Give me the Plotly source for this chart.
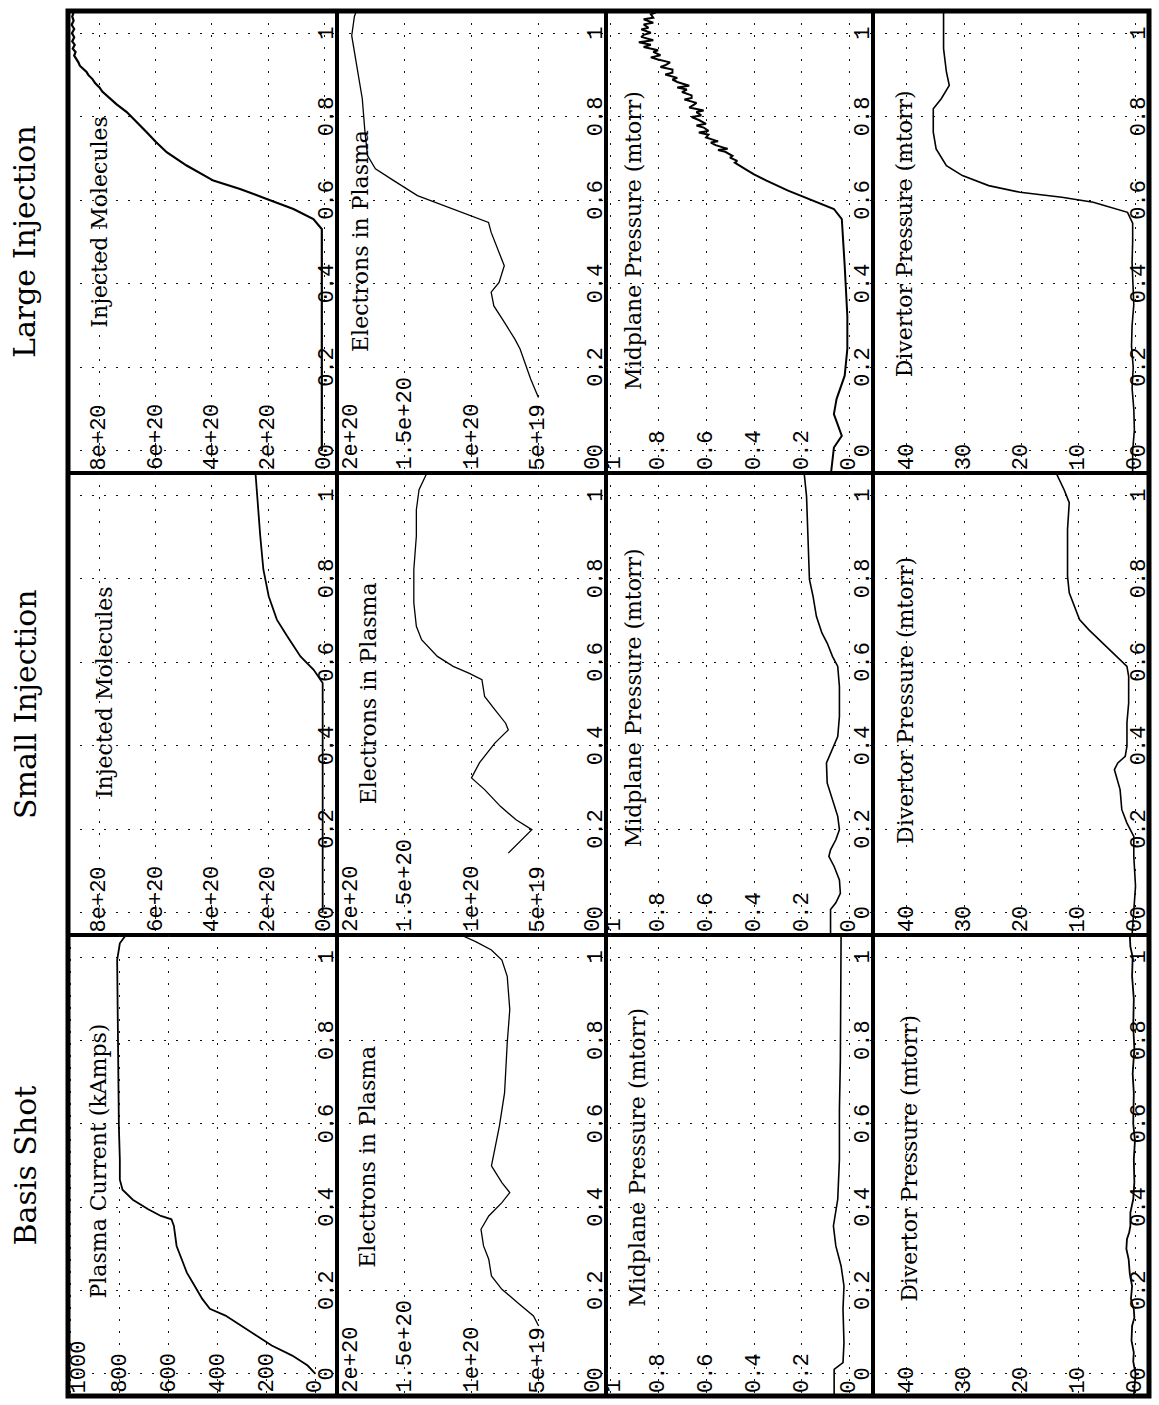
import plotly.graph_objects as go

W, H = 1159, 1405

# ---------------- data (t is normalised time, values in panel units) ----------------
T_TICKS = [0, 0.2, 0.4, 0.6, 0.8, 1]
T_LABELS = ["0", "0.2", "0.4", "0.6", "0.8", "1"]

CURRENT_TICKS = [0, 200, 400, 600, 800, 1000]
CURRENT_LABELS = ["0", "200", "400", "600", "800", "1000"]
MOLECULE_TICKS = [0, 2e20, 4e20, 6e20, 8e20]
MOLECULE_LABELS = ["0", "2e+20", "4e+20", "6e+20", "8e+20"]
ELECTRON_TICKS = [0, 5e19, 1e20, 1.5e20, 2e20]
ELECTRON_LABELS = ["0", "5e+19", "1e+20", "1.5e+20", "2e+20"]
MIDPLANE_TICKS = [0, 0.2, 0.4, 0.6, 0.8, 1]
MIDPLANE_LABELS = ["0", "0.2", "0.4", "0.6", "0.8", "1"]
DIVERTOR_TICKS = [0, 10, 20, 30, 40]
DIVERTOR_LABELS = ["0", "10", "20", "30", "40"]

# (t, kA)
BASIS_CURRENT = [(0, 0), (0.02, 32), (0.044, 95), (0.068, 179), (0.092, 242), (0.116, 305),
                 (0.14, 368), (0.156, 432), (0.18, 463), (0.212, 495), (0.243, 526), (0.275, 547),
                 (0.307, 568), (0.355, 579), (0.371, 589), (0.379, 632), (0.395, 684), (0.418, 747),
                 (0.442, 789), (0.466, 800), (0.514, 800), (0.594, 804), (0.754, 806), (0.913, 811),
                 (0.993, 811), (1.033, 800), (1.053, 775)]
# (t, electrons / 1e20)
BASIS_ELECTRONS = [(0.115, 0.498), (0.139, 0.537), (0.171, 0.655), (0.203, 0.773), (0.235, 0.851),
                   (0.275, 0.871), (0.307, 0.91), (0.347, 0.929), (0.379, 0.871), (0.411, 0.773),
                   (0.435, 0.714), (0.459, 0.773), (0.499, 0.851), (0.53, 0.831), (0.594, 0.792),
                   (0.674, 0.753), (0.794, 0.733), (0.874, 0.714), (0.954, 0.733), (0.993, 0.773),
                   (1.017, 0.851), (1.037, 0.969), (1.053, 1.08)]
# (t, mtorr)
BASIS_MIDPLANE = [(-0.053, 0.066), (0.011, 0.066), (0.027, 0.029), (0.075, 0.025), (0.155, 0.029),
                  (0.211, 0.025), (0.259, 0.037), (0.307, 0.059), (0.355, 0.069), (0.379, 0.063),
                  (0.419, 0.051), (0.514, 0.044), (0.634, 0.044), (0.754, 0.040), (0.874, 0.040),
                  (0.994, 0.037), (1.053, 0.037)]
BASIS_DIVERTOR = [(-0.053, 0.3), (0.0, 0.0), (0.03, 0.4), (0.051, 0.3), (0.08, 0.7), (0.115, 0.6),
                  (0.135, 0.2), (0.155, 0.3), (0.18, 0.8), (0.211, 0.6), (0.24, 1.0), (0.275, 1.2),
                  (0.3, 1.6), (0.323, 1.5), (0.34, 1.1), (0.355, 0.9), (0.387, 0.9), (0.419, 0.4),
                  (0.46, 0.2), (0.514, 0.3), (0.56, 0.1), (0.6, 0.4), (0.674, 0.3), (0.72, 0.5),
                  (0.78, 0.2), (0.834, 0.4), (0.9, 0.3), (0.954, 0.6), (1.0, 0.5), (1.025, 0.9),
                  (1.053, 1.0)]

# (t, molecules / 1e20)
SMALL_MOLECULES = [(0, 0.06), (0.55, 0.06), (0.582, 0.38), (0.614, 0.85), (0.662, 1.32),
                   (0.702, 1.69), (0.758, 1.98), (0.822, 2.17), (0.902, 2.28), (0.965, 2.36),
                   (1.037, 2.43), (1.053, 2.45)]
SMALL_ELECTRONS = [(0.143, 0.725), (0.199, 0.549), (0.223, 0.667), (0.255, 0.784), (0.295, 0.902),
                   (0.323, 1.0), (0.359, 0.941), (0.407, 0.824), (0.438, 0.725), (0.454, 0.745),
                   (0.486, 0.824), (0.518, 0.902), (0.558, 0.922), (0.574, 1.02), (0.59, 1.137),
                   (0.614, 1.255), (0.654, 1.373), (0.686, 1.412), (0.742, 1.431), (0.822, 1.431),
                   (0.902, 1.412), (0.965, 1.412), (1.013, 1.392), (1.053, 1.333)]
SMALL_MIDPLANE = [(-0.053, 0.081), (0.008, 0.081), (0.024, 0.059), (0.047, 0.040), (0.079, 0.044),
                  (0.111, 0.066), (0.135, 0.088), (0.151, 0.081), (0.175, 0.059), (0.199, 0.044),
                  (0.231, 0.051), (0.271, 0.073), (0.311, 0.095), (0.359, 0.098), (0.382, 0.081),
                  (0.422, 0.051), (0.47, 0.044), (0.542, 0.044), (0.59, 0.051), (0.614, 0.073),
                  (0.646, 0.095), (0.67, 0.117), (0.71, 0.140), (0.758, 0.154), (0.798, 0.169),
                  (0.862, 0.172), (0.942, 0.176), (0.997, 0.181), (1.053, 0.191)]
SMALL_DIVERTOR = [(-0.053, 0.6), (0, 0.3), (0.064, 0), (0.135, 0.3), (0.183, 0.3), (0.215, 1.5),
                  (0.247, 2.4), (0.295, 2.7), (0.327, 3.4), (0.343, 3.7), (0.359, 3.1), (0.375, 1.8),
                  (0.399, 1.5), (0.455, 1.5), (0.502, 1.2), (0.566, 1.2), (0.59, 1.5), (0.606, 2.7),
                  (0.63, 4.6), (0.654, 6.4), (0.678, 8.2), (0.702, 9.8), (0.734, 10.7), (0.766, 11.6),
                  (0.806, 11.9), (0.862, 11.9), (0.918, 11.9), (0.982, 11.6), (1.013, 12.5),
                  (1.053, 13.9)]

LARGE_MOLECULES = [(0, 0.09), (0.531, 0.09), (0.555, 0.39), (0.579, 1.10), (0.603, 2.05),
                   (0.627, 3.0), (0.647, 3.95), (0.665, 4.45), (0.683, 4.90), (0.715, 5.61),
                   (0.74, 6.0), (0.763, 6.32), (0.79, 6.7), (0.811, 7.03), (0.83, 7.4), (0.85, 7.74),
                   (0.86, 7.9), (0.87, 8.0), (0.88, 8.15), (0.89, 8.25), (0.9, 8.4), (0.907, 8.46),
                   (0.915, 8.6), (0.922, 8.7), (0.93, 8.75), (0.938, 8.81), (0.946, 8.9),
                   (0.955, 8.85), (0.963, 8.95), (0.972, 8.88), (0.98, 8.97), (0.99, 8.9),
                   (1.0, 8.98), (1.01, 8.9), (1.02, 8.99), (1.03, 8.92), (1.04, 8.97), (1.053, 8.9)]
LARGE_ELECTRONS = [(0.128, 0.50), (0.172, 0.558), (0.244, 0.637), (0.268, 0.677), (0.308, 0.755),
                   (0.347, 0.833), (0.38, 0.853), (0.403, 0.794), (0.443, 0.755), (0.475, 0.794),
                   (0.523, 0.853), (0.547, 0.873), (0.571, 1.07), (0.595, 1.266), (0.611, 1.404),
                   (0.647, 1.581), (0.675, 1.718), (0.707, 1.777), (0.763, 1.796), (0.843, 1.816),
                   (0.922, 1.856), (0.994, 1.895), (1.04, 1.875), (1.053, 1.86)]
LARGE_MIDPLANE = [(-0.053, 0.079), (0.008, 0.067), (0.036, 0.034), (0.088, 0.067), (0.124, 0.056),
                  (0.18, 0.022), (0.244, 0.011), (0.323, 0.011), (0.443, 0.022), (0.555, 0.034),
                  (0.579, 0.067), (0.603, 0.169), (0.623, 0.258), (0.647, 0.348), (0.662, 0.40),
                  (0.675, 0.438), (0.690, 0.48), (0.694, 0.47), (0.702, 0.50), (0.706, 0.49),
                  (0.716, 0.52), (0.720, 0.55), (0.723, 0.51), (0.732, 0.56), (0.738, 0.58),
                  (0.741, 0.55), (0.750, 0.60), (0.757, 0.59), (0.762, 0.63), (0.766, 0.59),
                  (0.774, 0.61), (0.779, 0.64), (0.783, 0.60), (0.792, 0.63), (0.799, 0.66),
                  (0.803, 0.62), (0.811, 0.64), (0.815, 0.61), (0.822, 0.67), (0.829, 0.65),
                  (0.833, 0.64), (0.841, 0.69), (0.845, 0.66), (0.851, 0.66), (0.859, 0.70),
                  (0.865, 0.68), (0.870, 0.72), (0.874, 0.67), (0.883, 0.72), (0.889, 0.74),
                  (0.893, 0.72), (0.901, 0.77), (0.905, 0.74), (0.913, 0.74), (0.919, 0.79),
                  (0.923, 0.77), (0.930, 0.75), (0.937, 0.80), (0.942, 0.83), (0.947, 0.79),
                  (0.955, 0.82), (0.959, 0.80), (0.967, 0.86), (0.972, 0.83), (0.978, 0.88),
                  (0.983, 0.82), (0.991, 0.87), (0.996, 0.86), (1.001, 0.83), (1.009, 0.87),
                  (1.013, 0.84), (1.021, 0.86), (1.025, 0.82), (1.033, 0.86), (1.037, 0.82),
                  (1.045, 0.83), (1.049, 0.81), (1.053, 0.83)]
LARGE_DIVERTOR = [(-0.053, 0.5), (0.0, 0.5), (0.05, 0.2), (0.1, 0.3), (0.15, 0.6), (0.2, 0.4),
                  (0.25, 0.7), (0.3, 0.6), (0.35, 0.3), (0.4, 0.4), (0.45, 0.6), (0.5, 0.5),
                  (0.545, 0.5), (0.571, 1.4), (0.595, 7.4), (0.607, 12.9), (0.619, 20.2),
                  (0.635, 25.7), (0.659, 30.3), (0.683, 33.1), (0.723, 34.9), (0.763, 35.4),
                  (0.819, 35.4), (0.843, 34.0), (0.875, 32.6), (0.907, 33.1), (0.963, 33.6),
                  (1.034, 33.6), (1.053, 33.6)]

ROW_TITLES = ["Large Injection", "Small Injection", "Basis Shot"]

# ---------------- layout geometry (pixels of the 1159x1405 page) ----------------
COL_EDGES = [68, 337, 606, 873, 1149]
ROW_EDGES = [(11, 473), (473, 935), (935, 1396)]   # top, bottom for Large, Small, Basis
T_RANGE = [-0.053, 1.053]

KIND = {
    "current": dict(ticks=CURRENT_TICKS, labels=CURRENT_LABELS, rng=[1012, -88], scale=1,
                    shift={"1000": 9}),
    "molecules": dict(ticks=MOLECULE_TICKS, labels=MOLECULE_LABELS, rng=[9.12e20, -0.45e20], scale=1e20,
                      shift={}),
    "electrons": dict(ticks=ELECTRON_TICKS, labels=ELECTRON_LABELS, rng=[2.005e20, -0.005e20], scale=1e20,
                      shift={"2e+20": 13, "0": -12}),
    "midplane": dict(ticks=MIDPLANE_TICKS, labels=MIDPLANE_LABELS, rng=[1.017, -0.096], scale=1,
                     shift={"1": 4}),
    "divertor": dict(ticks=DIVERTOR_TICKS, labels=DIVERTOR_LABELS, rng=[45.95, -2.36], scale=1,
                     shift={}),
}

# row index, col index, kind, data, title, title offset px from panel left, title start t, line width
PANELS = [
    (0, 0, "molecules", LARGE_MOLECULES, "Injected Molecules", 32, 0.29, 2.2),
    (0, 1, "electrons", LARGE_ELECTRONS, "Electrons in Plasma", 24, 0.232, 1.3),
    (0, 2, "midplane", LARGE_MIDPLANE, "Midplane Pressure (mtorr)", 28, 0.14, 2.0),
    (0, 3, "divertor", LARGE_DIVERTOR, "Divertor Pressure (mtorr)", 31, 0.17, 1.6),
    (1, 0, "molecules", SMALL_MOLECULES, "Injected Molecules", 36, 0.27, 1.8),
    (1, 1, "electrons", SMALL_ELECTRONS, "Electrons in Plasma", 31, 0.255, 1.3),
    (1, 2, "midplane", SMALL_MIDPLANE, "Midplane Pressure (mtorr)", 27, 0.151, 1.6),
    (1, 3, "divertor", SMALL_DIVERTOR, "Divertor Pressure (mtorr)", 33, 0.159, 1.6),
    (2, 0, "current", BASIS_CURRENT, "Plasma Current (kAmps)", 30, 0.175, 1.8),
    (2, 1, "electrons", BASIS_ELECTRONS, "Electrons in Plasma", 31, 0.25, 1.3),
    (2, 2, "midplane", BASIS_MIDPLANE, "Midplane Pressure (mtorr)", 32, 0.155, 1.6),
    (2, 3, "divertor", BASIS_DIVERTOR, "Divertor Pressure (mtorr)", 37, 0.167, 1.8),
]

MONO = "Liberation Mono"
SERIF = "DejaVu Serif"

fig = go.Figure()
layout = {}
annotations = []

for i, (r, c, kind, data, title, toff, tstart, lw) in enumerate(PANELS):
    n = i + 1
    sfx = "" if n == 1 else str(n)
    k = KIND[kind]
    x0, x1 = COL_EDGES[c], COL_EDGES[c + 1]
    top, bot = ROW_EDGES[r]
    ts = [p[0] for p in data]
    vs = [p[1] * k["scale"] for p in data]
    fig.add_trace(go.Scatter(x=vs, y=ts, mode="lines", line=dict(color="black", width=lw),
                             xaxis="x" + sfx, yaxis="y" + sfx, showlegend=False, hoverinfo="skip"))
    common = dict(showticklabels=False, ticks="", showgrid=True, gridcolor="#111",
                  griddash="2px,10px", gridwidth=1.4, zeroline=False, showline=True,
                  linecolor="black", linewidth=1.6, mirror=True, fixedrange=True)
    layout["xaxis" + sfx] = dict(domain=[x0 / W, x1 / W], range=k["rng"], anchor="y" + sfx,
                                 tickvals=k["ticks"], **common)
    layout["yaxis" + sfx] = dict(domain=[1 - bot / H, 1 - top / H], range=T_RANGE, anchor="x" + sfx,
                                 tickvals=T_TICKS, **common)
    # value tick labels (inside, along the bottom)
    for v, lab in zip(k["ticks"], k["labels"]):
        annotations.append(dict(x=v, y=0, xref="x" + sfx, yref="y" + sfx + " domain", text=lab,
                                textangle=-90, xanchor="center", yanchor="bottom", yshift=1,
                                xshift=k["shift"].get(lab, 0), showarrow=False,
                                font=dict(family=MONO, size=22, color="black")))
    # time tick labels (inside, along the right edge)
    for t, lab in zip(T_TICKS, T_LABELS):
        annotations.append(dict(x=1, y=t, xref="x" + sfx + " domain", yref="y" + sfx, text=lab,
                                textangle=-90, xanchor="right", yanchor="middle", xshift=5,
                                showarrow=False, font=dict(family=MONO, size=22, color="black")))
    # panel title
    annotations.append(dict(x=toff / (x1 - x0), y=tstart, xref="x" + sfx + " domain", yref="y" + sfx,
                            text=title, textangle=-90, xanchor="center", yanchor="bottom",
                            showarrow=False, font=dict(family=SERIF, size=22, color="black")))

for r, name in enumerate(ROW_TITLES):
    top, bot = ROW_EDGES[r]
    annotations.append(dict(x=25 / W, y=1 - (top + bot) / 2 / H, xref="paper", yref="paper",
                            text=name, textangle=-90, xanchor="center", yanchor="middle",
                            showarrow=False, font=dict(family=SERIF, size=30, color="black")))

shapes = [dict(type="rect", xref="paper", yref="paper", x0=COL_EDGES[0] / W, x1=COL_EDGES[-1] / W,
               y0=1 - ROW_EDGES[-1][1] / H, y1=1 - ROW_EDGES[0][0] / H,
               line=dict(color="black", width=5), layer="above")]

fig.update_layout(width=W, height=H, margin=dict(l=0, r=0, t=0, b=0), paper_bgcolor="white",
                  plot_bgcolor="white", showlegend=False, annotations=annotations, shapes=shapes,
                  **layout)
fig.write_html("out.html", config={"displayModeBar": False})
